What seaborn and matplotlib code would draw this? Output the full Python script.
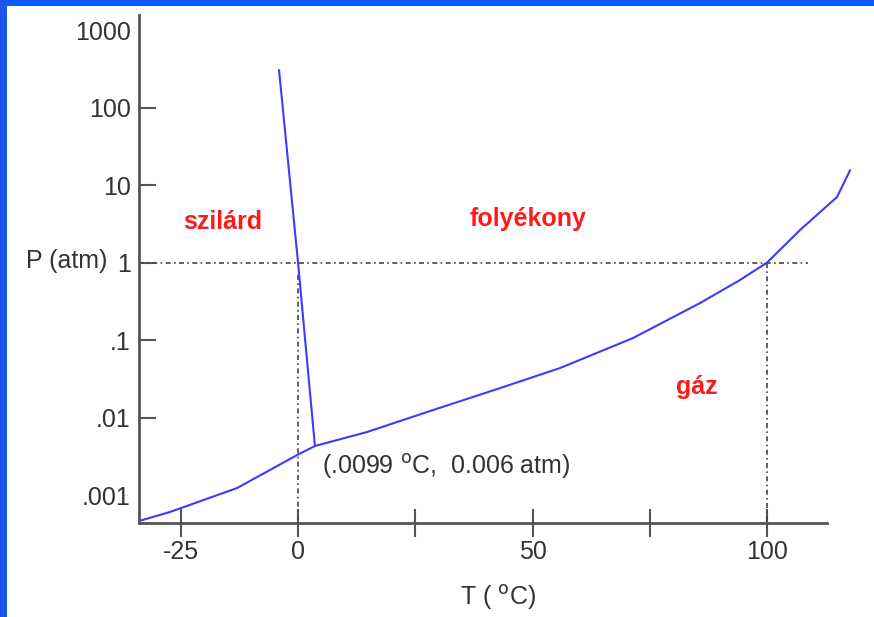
import numpy as np
import pandas as pd
import matplotlib
matplotlib.use("Agg")
import matplotlib.pyplot as plt
import seaborn as sns
from matplotlib.patches import Rectangle

# ---- data ----
vap_T = [-33.9, -27.3, -13.0, -0.2, 3.6, 14.7, 28.8, 43.1, 55.9, 71.4, 85.7, 94.2, 100.0, 107.0, 114.9, 117.7]
vap_P = [4.62e-4, 6.04e-4, 1.23e-3, 3.28e-3, 4.29e-3, 6.50e-3, 0.0125, 0.0240, 0.0436, 0.106, 0.300, 0.594, 1.0, 2.62, 7.0, 15.6]
melt_T = [-4.05, 0.0, 3.6]
melt_P = [305.0, 1.0, 4.29e-3]

ytick_vals = [1000, 100, 10, 1, 0.1, 0.01, 0.001]
ytick_labels = ["1000", "100", "10", "1", ".1", ".01", ".001"]
xtick_vals = [-25, 0, 25, 50, 75, 100]
xtick_labels = ["-25", "0", "", "50", "", "100"]

region_labels = ["szilárd", "folyékony", "gáz"]
region_T = [-16.0, 49.0, 85.0]
region_P = [3.3, 3.6, 0.0248]

sns.set_style("white")
plt.rcParams["font.family"] = ["Liberation Sans", "DejaVu Sans"]

W, H = 874, 617
fig = plt.figure(figsize=(W / 100, H / 100), dpi=100, facecolor="white")

# blue frame bands
fig.patches.append(Rectangle((0, 1 - 6 / H), 1, 6 / H, transform=fig.transFigure,
                             facecolor="#0a5cff", edgecolor="none", zorder=0))
fig.patches.append(Rectangle((0, 0), 7 / W, 1, transform=fig.transFigure,
                             facecolor="#1a55e8", edgecolor="none", zorder=0))

ax = fig.add_axes([139 / W, 1 - 523 / H, (860 - 139) / W, (523 - 15) / H])
ax.set_facecolor("none")

df_v = pd.DataFrame({"T": vap_T, "P": vap_P})
df_m = pd.DataFrame({"T": melt_T, "P": melt_P})
blue = "#3b3bff"
sns.lineplot(data=df_v, x="T", y="P", ax=ax, color=blue, lw=1.5, estimator=None, sort=False)
sns.lineplot(data=df_m, x="T", y="P", ax=ax, color=blue, lw=1.5, estimator=None, sort=False)

ax.set_yscale("log")
x_left, x_right = -33.9, 119.8
ax.set_xlim(x_left, x_right)
ax.set_ylim(10 ** -3.361, 10 ** 3.194)

# dotted reference lines
dcol = "#444444"
ls = (0, (3, 2, 1, 2))
ax.plot([x_left, 108.7], [1, 1], color=dcol, lw=1.2, ls=ls, zorder=1)
ax.plot([0, 0], [0.7, 10 ** -3.361], color=dcol, lw=1.2, ls=ls, zorder=1)
ax.plot([100, 100], [1, 10 ** -3.361], color=dcol, lw=1.2, ls=ls, zorder=1)

# spines
for s in ["top", "right"]:
    ax.spines[s].set_visible(False)
axcol = "#555555"
for s in ["left", "bottom"]:
    ax.spines[s].set_color(axcol)
    ax.spines[s].set_linewidth(2)
ax.spines["bottom"].set_bounds(x_left, 112.8)

ax.set_yticks(ytick_vals)
ax.set_yticklabels(ytick_labels)
ax.yaxis.set_minor_locator(matplotlib.ticker.NullLocator())
ax.set_xticks(xtick_vals)
ax.set_xticklabels(xtick_labels)

txtcol = "#333333"
fs = 18
ax.tick_params(axis="y", left=True, direction="in", length=12, width=1.5, color=axcol,
               labelsize=fs, labelcolor=txtcol, pad=6)
ax.tick_params(axis="x", bottom=True, direction="inout", length=20, width=1.5, color=axcol,
               labelsize=fs, labelcolor=txtcol, pad=2)
yt = ax.yaxis.get_major_ticks()
yt[0].tick1line.set_visible(False)
yt[-1].tick1line.set_visible(False)
ax.set_xlabel("")
ax.set_ylabel("")

# region labels
red = "#ff1a1a"
for lab, t, p in zip(region_labels, region_T, region_P):
    ax.text(t, p, lab, color=red, fontsize=fs, fontweight="bold", ha="center", va="center")

# triple point annotation
ax.text(5.1, 2.3e-3, r"(.0099 $^{\rm o}$C,  0.006 atm)", color=txtcol, fontsize=fs,
        ha="left", va="center")

# axis titles
fig.text(498 / W, 1 - 597 / H, r"T ( $^{\rm o}$C)", color=txtcol, fontsize=fs,
         ha="center", va="center")
fig.text(107 / W, 1 - 261 / H, "P (atm)", color=txtcol, fontsize=fs, ha="right", va="center")

fig.savefig("out.png", dpi=100, facecolor="white")
